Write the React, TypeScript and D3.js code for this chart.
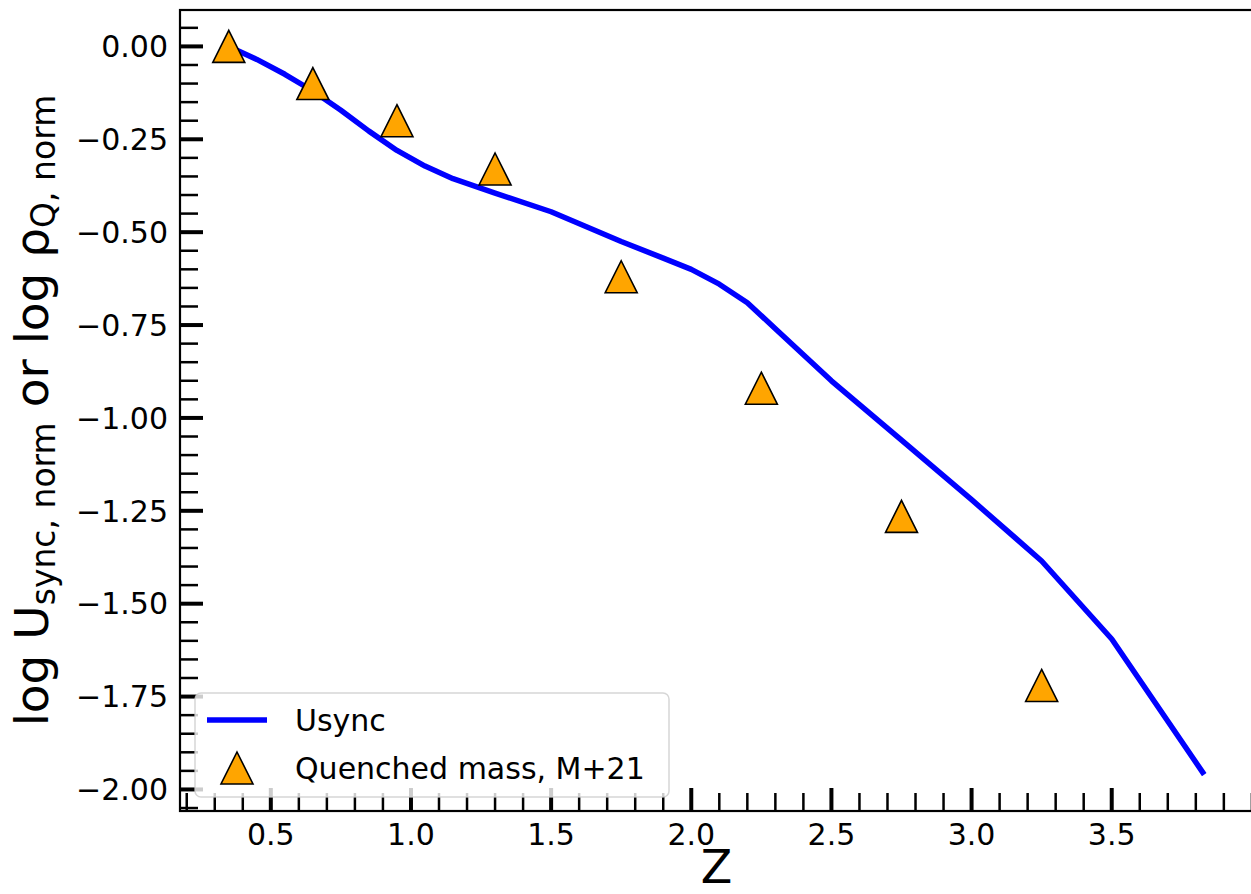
import React from "react";
import * as d3 from "d3";

// Usync curve, log normalised
const usyncZ = [0.35, 0.45, 0.55, 0.65, 0.75, 0.85, 0.95, 1.05, 1.15, 1.3, 1.5, 1.75, 1.9, 2.0, 2.1, 2.2, 2.3, 2.5, 2.75, 3.0, 3.25, 3.5, 3.83];
const usyncLog = [0.0, -0.035, -0.075, -0.12, -0.172, -0.228, -0.28, -0.322, -0.356, -0.395, -0.445, -0.525, -0.57, -0.6, -0.64, -0.69, -0.76, -0.9, -1.06, -1.22, -1.385, -1.595, -1.96];

// Quenched mass, M+21
const quenchedZ = [0.35, 0.65, 0.95, 1.3, 1.75, 2.25, 2.75, 3.25];
const quenchedLog = [0.0, -0.1, -0.2, -0.33, -0.62, -0.92, -1.265, -1.72];

const xTicks = [0.5, 1.0, 1.5, 2.0, 2.5, 3.0, 3.5];
const yTicks = [0.0, -0.25, -0.5, -0.75, -1.0, -1.25, -1.5, -1.75, -2.0];
const xMinorStep = 0.1;
const yMinorStep = 0.05;

const legendLabels = ["Usync", "Quenched mass, M+21"];

const W = 1251;
const H = 894;
const margin = { top: 10, right: -2, bottom: 83, left: 180 };

const FONT = "'DejaVu Sans', sans-serif";
const ORANGE = "#ffa500";
const BLUE = "#0000ff";
const MARKER = 32;

// matplotlib style "^" marker: width and height equal to the marker size
const mplTriangle = {
  draw(context: any, size: number) {
    const h = Math.sqrt(size) / 2;
    context.moveTo(0, -h);
    context.lineTo(h, h);
    context.lineTo(-h, h);
    context.closePath();
  },
};

const fmtY = (v: number) => (v < 0 ? "\u2212" : "") + Math.abs(v).toFixed(2);
const fmtX = (v: number) => v.toFixed(1);

export default function App() {
  const x0 = margin.left;
  const x1 = W - margin.right;
  const y0 = margin.top;
  const y1 = H - margin.bottom;

  // matplotlib default 5% data margins
  const zMin = d3.min(usyncZ)!;
  const zMax = d3.max(usyncZ)!;
  const vMin = d3.min(usyncLog)!;
  const vMax = d3.max(usyncLog)!;
  const padX = (zMax - zMin) * 0.05;
  const padY = (vMax - vMin) * 0.05;

  const x = d3.scaleLinear().domain([zMin - padX, zMax + padX]).range([x0, x1]);
  const y = d3.scaleLinear().domain([vMin - padY, vMax + padY]).range([y1, y0]);

  const [xd0, xd1] = x.domain();
  const [yd0, yd1] = y.domain();
  const xMinor = d3
    .range(Math.ceil(xd0 / xMinorStep), Math.floor(xd1 / xMinorStep) + 1)
    .map((i) => +(i * xMinorStep).toFixed(2))
    .filter((v) => !xTicks.some((t) => Math.abs(t - v) < 1e-6));
  const yMinor = d3
    .range(Math.ceil(yd0 / yMinorStep), Math.floor(yd1 / yMinorStep) + 1)
    .map((i) => +(i * yMinorStep).toFixed(2))
    .filter((v) => !yTicks.some((t) => Math.abs(t - v) < 1e-6));

  const line = d3
    .line<number>()
    .x((d, i) => x(usyncZ[i]))
    .y((d) => y(d));

  const tri = d3.symbol().type(mplTriangle as any).size(MARKER * MARKER)();

  const majorLen = 23;
  const minorLen = 18;

  // legend layout
  const lg = { x: 195, y: 693, w: 474, h: 104 };
  const row1 = 720;
  const row2 = 768;

  return (
    <svg
      width={W}
      height={H}
      style={{ position: "absolute", left: 0, top: 0, background: "#fff" }}
      fontFamily={FONT}
    >
      <defs>
        <clipPath id="plotArea">
          <rect x={x0} y={y0} width={x1 - x0} height={y1 - y0} />
        </clipPath>
      </defs>

      {/* x ticks */}
      {xMinor.map((t) => (
        <line key={"xm" + t} x1={x(t)} x2={x(t)} y1={y1} y2={y1 - minorLen} stroke="#000" strokeWidth={2.5} />
      ))}
      {xTicks.map((t) => (
        <g key={"x" + t}>
          <line x1={x(t)} x2={x(t)} y1={y1} y2={y1 - majorLen} stroke="#000" strokeWidth={4} />
          <text x={x(t)} y={y1 + 34} fontSize={30} textAnchor="middle">
            {fmtX(t)}
          </text>
        </g>
      ))}

      {/* y ticks */}
      {yMinor.map((t) => (
        <line key={"ym" + t} x1={x0} x2={x0 + minorLen} y1={y(t)} y2={y(t)} stroke="#000" strokeWidth={2.5} />
      ))}
      {yTicks.map((t) => (
        <g key={"y" + t}>
          <line x1={x0} x2={x0 + majorLen} y1={y(t)} y2={y(t)} stroke="#000" strokeWidth={4} />
          <text x={x0 - 12} y={y(t)} dy="0.36em" fontSize={30} textAnchor="end">
            {fmtY(t)}
          </text>
        </g>
      ))}

      {/* data */}
      <g clipPath="url(#plotArea)">
        <path d={line(usyncLog) || ""} fill="none" stroke={BLUE} strokeWidth={5.5} strokeLinejoin="round" />
        {quenchedZ.map((z, i) => (
          <path
            key={"q" + i}
            d={tri || ""}
            transform={`translate(${x(z)},${y(quenchedLog[i])})`}
            fill={ORANGE}
            stroke="#000"
            strokeWidth={1.6}
          />
        ))}
      </g>

      {/* spines */}
      <rect x={x0} y={y0} width={x1 - x0} height={y1 - y0} fill="none" stroke="#000" strokeWidth={2.2} />

      {/* legend */}
      <rect
        x={lg.x}
        y={lg.y}
        width={lg.w}
        height={lg.h}
        rx={6}
        fill="#fff"
        fillOpacity={0.8}
        stroke="#cccccc"
        strokeOpacity={0.8}
        strokeWidth={1.5}
      />
      <line x1={207} x2={267} y1={row1} y2={row1} stroke={BLUE} strokeWidth={5.5} />
      <path d={tri || ""} transform={`translate(237,${row2})`} fill={ORANGE} stroke="#000" strokeWidth={1.6} />
      <text x={295} y={row1} dy="0.36em" fontSize={30}>
        {legendLabels[0]}
      </text>
      <text x={295} y={row2} dy="0.36em" fontSize={30}>
        {legendLabels[1]}
      </text>

      {/* axis labels */}
      <text x={(x0 + x1) / 2} y={883} fontSize={46} textAnchor="middle">
        Z
      </text>
      <text transform={`translate(48,${(y0 + y1) / 2}) rotate(-90)`} fontSize={47} textAnchor="middle">
        <tspan>log U</tspan>
        <tspan fontSize={33} dy={7}>
          sync, norm
        </tspan>
        <tspan dy={-7}> or log ρ</tspan>
        <tspan fontSize={33} dy={7}>
          Q, norm
        </tspan>
      </text>
    </svg>
  );
}
